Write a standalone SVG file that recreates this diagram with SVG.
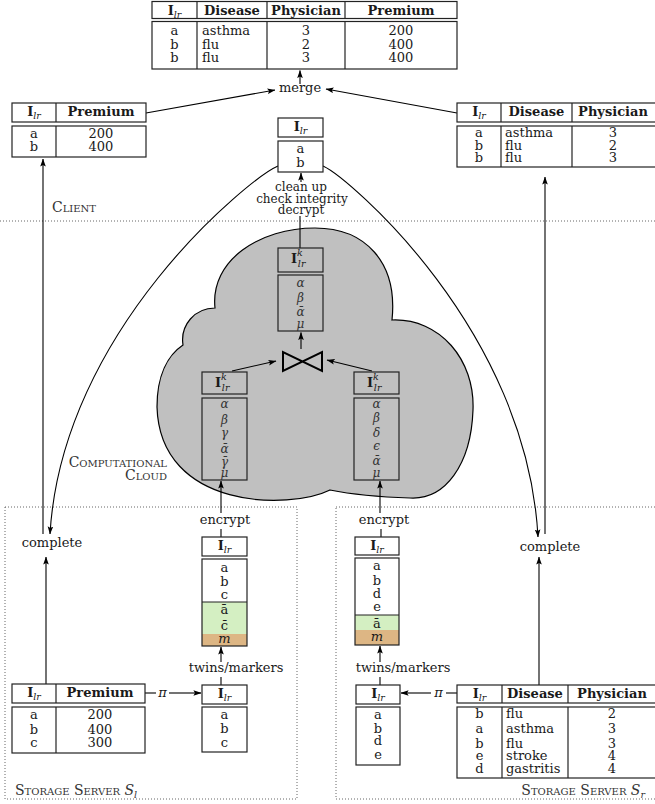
<svg xmlns="http://www.w3.org/2000/svg" width="655" height="804" viewBox="0 0 655 804">
<defs>
<marker id="ah" viewBox="0 0 10 8" refX="9.5" refY="4" markerWidth="8" markerHeight="6.4" markerUnits="userSpaceOnUse" orient="auto"><path d="M0,0.5 L10,4 L0,7.5 L2,4 Z" fill="#000"/></marker>
</defs>
<style>
text { font-family: "DejaVu Serif", "Liberation Serif", serif; font-size: 13px; fill: #1a1a1a; }
.m { text-anchor: middle; }
.e { text-anchor: end; }
.hb { font-weight: bold; }
.sub { font-style: italic; font-size: 9.5px; font-weight: normal; }
.g { font-style: italic; fill: #333; text-anchor: middle; font-size: 12px; }
.sc { font-variant: small-caps; font-size: 14px; fill: #333; }
.st { font-size: 12px; }
.box { fill: #fff; stroke: #222; stroke-width: 1.2; }
.cbox { fill: none; stroke: #222; stroke-width: 1.2; }
.sep { stroke: #222; stroke-width: 1.2; }
.ln { stroke: #000; stroke-width: 1.1; fill: none; }
.a { marker-end: url(#ah); }
.dot { fill: none; stroke: #666; stroke-width: 1; stroke-dasharray: 1 2; }
.green { fill: #d4efc2; }
.orange { fill: #ddb684; }
</style>
<rect width="655" height="804" fill="#fff"/>

<g id="regions">
<line class="dot" x1="0" y1="221" x2="655" y2="221"/>
<rect class="dot" x="5" y="507" width="292" height="292"/>
<rect class="dot" x="336" y="507" width="330" height="292"/>
<path id="cloud" d="M215,308 C210,260 260,228 315,228 C365,228 398,262 392,320 C440,318 475,360 473,410 C471,465 445,500 410,498 C380,497 350,494 330,490 C290,510 160,510 157,407 C157,375 168,355 183,345 C180,325 195,308 215,308 Z" fill="#c0c0c0" stroke="#000" stroke-width="1.2"/>
<text class="sc" x="52" y="212">Client</text>
<text class="sc e" x="167" y="467">Computational</text>
<text class="sc e" x="167" y="480">Cloud</text>
<text class="sc" x="15" y="795">Storage Server <tspan font-style="italic" font-variant="normal">S</tspan><tspan class="sub" dy="3" font-variant="normal">l</tspan></text>
<text class="sc e" x="645" y="795">Storage Server <tspan font-style="italic" font-variant="normal">S</tspan><tspan class="sub" dy="3" font-variant="normal">r</tspan></text>
</g>

<g id="connectors">
<line class="ln a" x1="300" y1="84" x2="300" y2="70.5"/>
<line class="ln a" x1="146" y1="113" x2="275" y2="90"/>
<line class="ln a" x1="457" y1="113" x2="326" y2="89"/>
<line class="ln a" x1="301" y1="182" x2="301" y2="173"/>
<line class="ln" x1="300" y1="216" x2="300" y2="248"/>
<line class="ln a" x1="301" y1="349" x2="301" y2="332.5"/>
<line class="ln a" x1="232" y1="371" x2="276" y2="361"/>
<line class="ln a" x1="372" y1="371" x2="327" y2="360"/>
<line class="ln a" x1="221" y1="513" x2="221" y2="481"/>
<line class="ln a" x1="380" y1="513" x2="380" y2="481"/>
<line class="ln" x1="221" y1="529" x2="221" y2="537"/>
<line class="ln" x1="381" y1="529" x2="381" y2="537"/>
<line class="ln a" x1="221" y1="662" x2="221" y2="647"/>
<line class="ln a" x1="380" y1="662" x2="380" y2="646"/>
<line class="ln" x1="221" y1="677" x2="221" y2="685"/>
<line class="ln" x1="380" y1="677" x2="380" y2="685"/>
<line class="ln" x1="145" y1="693" x2="156" y2="693"/>
<line class="ln a" x1="169" y1="693" x2="201" y2="693"/>
<text x="162.5" y="697" class="m" font-style="italic" font-size="16">π</text>
<line class="ln" x1="457" y1="693" x2="446" y2="693"/>
<line class="ln a" x1="431" y1="693" x2="401" y2="693"/>
<text x="438.5" y="697" class="m" font-style="italic" font-size="16">π</text>
<line class="ln a" x1="46" y1="684" x2="46" y2="557"/>
<line class="ln a" x1="539" y1="685" x2="539" y2="557"/>
<line class="ln a" x1="43" y1="534" x2="43" y2="159"/>
<line class="ln a" x1="545" y1="534" x2="545" y2="177"/>
<path class="ln a" d="M278,166 C250,178 62,330 50,534"/>
<path class="ln a" d="M323,166 C349,178 527,330 538,537"/>
<text class="m" x="300" y="92">merge</text>
<text class="m st" x="301" y="191">clean up</text>
<text class="m st" x="302" y="202.5">check integrity</text>
<text class="m st" x="301" y="214">decrypt</text>
<text class="m" x="225" y="524">encrypt</text>
<text class="m" x="384" y="524">encrypt</text>
<text class="m" x="52" y="547">complete</text>
<text class="m" x="550" y="551">complete</text>
<text class="m" x="236" y="672">twins/markers</text>
<text class="m" x="403" y="672">twins/markers</text>
</g>

<g id="result-table">
<rect class="box" x="152" y="1.5" width="305" height="17"/>
<line class="sep" x1="197" y1="1.5" x2="197" y2="18.5"/>
<line class="sep" x1="267" y1="1.5" x2="267" y2="18.5"/>
<line class="sep" x1="345" y1="1.5" x2="345" y2="18.5"/>
<rect class="box" x="152" y="21.5" width="305" height="47.5"/>
<line class="sep" x1="197" y1="21.5" x2="197" y2="69"/>
<line class="sep" x1="267" y1="21.5" x2="267" y2="69"/>
<line class="sep" x1="345" y1="21.5" x2="345" y2="69"/>
<text class="m hb" x="174.5" y="14.5">I<tspan class="sub" dy="3">lr</tspan></text>
<text class="m hb" x="232" y="14.5">Disease</text>
<text class="m hb" x="306" y="14.5">Physician</text>
<text class="m hb" x="401" y="14.5">Premium</text>
<text class="m" x="174.5" y="35">a</text><text x="202" y="35">asthma</text><text class="m" x="306" y="35">3</text><text class="m" x="401" y="35">200</text>
<text class="m" x="174.5" y="48.5">b</text><text x="202" y="48.5">flu</text><text class="m" x="306" y="48.5">2</text><text class="m" x="401" y="48.5">400</text>
<text class="m" x="174.5" y="62">b</text><text x="202" y="62">flu</text><text class="m" x="306" y="62">3</text><text class="m" x="401" y="62">400</text>
</g>

<g id="client-left">
<rect class="box" x="12" y="103" width="134" height="19"/>
<line class="sep" x1="56" y1="103" x2="56" y2="122"/>
<rect class="box" x="12" y="126" width="134" height="31"/>
<line class="sep" x1="56" y1="126" x2="56" y2="157"/>
<text class="m hb" x="34" y="116">I<tspan class="sub" dy="3">lr</tspan></text>
<text class="m hb" x="101" y="116">Premium</text>
<text class="m" x="34" y="138">a</text><text class="m" x="101" y="138">200</text>
<text class="m" x="34" y="151">b</text><text class="m" x="101" y="151">400</text>
</g>

<g id="client-center">
<rect class="box" x="278" y="118" width="45" height="19"/>
<rect class="box" x="278" y="141" width="45" height="31"/>
<text class="m hb" x="300.5" y="131">I<tspan class="sub" dy="3">lr</tspan></text>
<text class="m" x="300.5" y="153">a</text>
<text class="m" x="300.5" y="167">b</text>
</g>

<g id="client-right">
<rect class="box" x="457" y="103" width="205" height="19"/>
<line class="sep" x1="501" y1="103" x2="501" y2="122"/>
<line class="sep" x1="572" y1="103" x2="572" y2="122"/>
<rect class="box" x="457" y="126" width="205" height="41"/>
<line class="sep" x1="501" y1="126" x2="501" y2="167"/>
<line class="sep" x1="572" y1="126" x2="572" y2="167"/>
<text class="m hb" x="479" y="116">I<tspan class="sub" dy="3">lr</tspan></text>
<text class="m hb" x="536.5" y="116">Disease</text>
<text class="m hb" x="613" y="116">Physician</text>
<text class="m" x="479" y="137">a</text><text x="505" y="137">asthma</text><text class="m" x="613" y="137">3</text>
<text class="m" x="479" y="150">b</text><text x="505" y="150">flu</text><text class="m" x="613" y="150">2</text>
<text class="m" x="479" y="162">b</text><text x="505" y="162">flu</text><text class="m" x="613" y="162">3</text>
</g>

<g id="cloud-join">
<rect class="cbox" x="278" y="248" width="45" height="24"/>
<rect class="cbox" x="278" y="275" width="45" height="56"/>
<text x="291" y="263" class="hb">I<tspan class="sub" dy="-7">k</tspan><tspan class="sub" dx="-5" dy="11">lr</tspan></text>
<text class="g" x="300.5" y="287">α</text>
<text class="g" x="300.5" y="302">β</text>
<text class="g" x="300.5" y="316">ᾱ</text>
<text class="g" x="300.5" y="328">μ</text>
</g>

<g id="join-op">
<path d="M283,352 L283,371 L322,352 L322,371 Z" fill="none" stroke="#000" stroke-width="2" stroke-linejoin="miter"/>
</g>

<g id="cloud-left">
<rect class="cbox" x="202" y="372" width="45" height="22"/>
<rect class="cbox" x="202" y="398" width="45" height="82"/>
<text x="215" y="387" class="hb">I<tspan class="sub" dy="-7">k</tspan><tspan class="sub" dx="-5" dy="11">lr</tspan></text>
<text class="g" x="224.5" y="408">α</text>
<text class="g" x="224.5" y="424">β</text>
<text class="g" x="224.5" y="437">γ</text>
<text class="g" x="224.5" y="453">ᾱ</text>
<text class="g" x="224.5" y="465.5">γ̄</text>
<text class="g" x="224.5" y="477">μ</text>
</g>

<g id="cloud-right">
<rect class="cbox" x="354" y="372" width="45" height="22"/>
<rect class="cbox" x="354" y="398" width="45" height="82"/>
<text x="367" y="387" class="hb">I<tspan class="sub" dy="-7">k</tspan><tspan class="sub" dx="-5" dy="11">lr</tspan></text>
<text class="g" x="376.5" y="408">α</text>
<text class="g" x="376.5" y="422">β</text>
<text class="g" x="376.5" y="437">δ</text>
<text class="g" x="376.5" y="449.5">ϵ</text>
<text class="g" x="376.5" y="465">ᾱ</text>
<text class="g" x="376.5" y="476.5">μ</text>
</g>

<g id="enc-left">
<rect class="box" x="202" y="537" width="45" height="19"/>
<rect x="202" y="559" width="45" height="43" fill="#fff"/>
<rect class="green" x="202" y="602" width="45" height="32"/>
<rect class="orange" x="202" y="634" width="45" height="12"/>
<rect class="cbox" x="202" y="559" width="45" height="87"/>
<line class="sep" x1="202" y1="602" x2="247" y2="602"/>
<text class="m hb" x="224.5" y="550">I<tspan class="sub" dy="3">lr</tspan></text>
<text class="m" x="224.5" y="572">a</text>
<text class="m" x="224.5" y="586">b</text>
<text class="m" x="224.5" y="599">c</text>
<text class="m" x="224.5" y="614">ā</text>
<text class="m" x="224.5" y="630">c̄</text>
<text class="m" x="224.5" y="643" font-style="italic">m</text>
</g>

<g id="enc-right">
<rect class="box" x="355" y="537" width="44" height="18"/>
<rect x="355" y="558" width="44" height="57" fill="#fff"/>
<rect class="green" x="355" y="615" width="44" height="15"/>
<rect class="orange" x="355" y="630" width="44" height="15"/>
<rect class="cbox" x="355" y="558" width="44" height="87"/>
<line class="sep" x1="355" y1="615" x2="399" y2="615"/>
<text class="m hb" x="377" y="550">I<tspan class="sub" dy="3">lr</tspan></text>
<text class="m" x="377" y="570">a</text>
<text class="m" x="377" y="584.5">b</text>
<text class="m" x="377" y="598">d</text>
<text class="m" x="377" y="611">e</text>
<text class="m" x="377" y="628">ā</text>
<text class="m" x="377" y="641" font-style="italic">m</text>
</g>

<g id="server-left-table">
<rect class="box" x="12" y="684" width="133" height="19"/>
<line class="sep" x1="56" y1="684" x2="56" y2="703"/>
<rect class="box" x="12" y="707" width="133" height="46"/>
<line class="sep" x1="56" y1="707" x2="56" y2="753"/>
<text class="m hb" x="34" y="697">I<tspan class="sub" dy="3">lr</tspan></text>
<text class="m hb" x="100" y="697">Premium</text>
<text class="m" x="34" y="718.5">a</text><text class="m" x="100" y="718.5">200</text>
<text class="m" x="34" y="733.5">b</text><text class="m" x="100" y="733.5">400</text>
<text class="m" x="34" y="746.5">c</text><text class="m" x="100" y="746.5">300</text>
</g>

<g id="server-left-proj">
<rect class="box" x="202" y="685" width="45" height="19"/>
<rect class="box" x="202" y="707" width="45" height="45"/>
<text class="m hb" x="224.5" y="698">I<tspan class="sub" dy="3">lr</tspan></text>
<text class="m" x="224.5" y="719">a</text>
<text class="m" x="224.5" y="733">b</text>
<text class="m" x="224.5" y="747">c</text>
</g>

<g id="server-right-proj">
<rect class="box" x="356" y="685" width="44" height="19"/>
<rect class="box" x="356" y="707" width="44" height="58"/>
<text class="m hb" x="378" y="698">I<tspan class="sub" dy="3">lr</tspan></text>
<text class="m" x="378" y="719">a</text>
<text class="m" x="378" y="733">b</text>
<text class="m" x="378" y="745">d</text>
<text class="m" x="378" y="759">e</text>
</g>

<g id="server-right-table">
<rect class="box" x="457" y="685" width="205" height="18"/>
<line class="sep" x1="502" y1="685" x2="502" y2="703"/>
<line class="sep" x1="568" y1="685" x2="568" y2="703"/>
<rect class="box" x="457" y="707" width="205" height="71"/>
<line class="sep" x1="502" y1="707" x2="502" y2="778"/>
<line class="sep" x1="568" y1="707" x2="568" y2="778"/>
<text class="m hb" x="479.5" y="698">I<tspan class="sub" dy="3">lr</tspan></text>
<text class="m hb" x="535" y="698">Disease</text>
<text class="m hb" x="612" y="698">Physician</text>
<text class="m" x="479.5" y="717.5">b</text><text x="506" y="717.5">flu</text><text class="m" x="612" y="717.5">2</text>
<text class="m" x="479.5" y="733">a</text><text x="506" y="733">asthma</text><text class="m" x="612" y="733">3</text>
<text class="m" x="479.5" y="747.5">b</text><text x="506" y="747.5">flu</text><text class="m" x="612" y="747.5">3</text>
<text class="m" x="479.5" y="760">e</text><text x="506" y="760">stroke</text><text class="m" x="612" y="760">4</text>
<text class="m" x="479.5" y="772.5">d</text><text x="506" y="772.5">gastritis</text><text class="m" x="612" y="772.5">4</text>
</g>
</svg>
